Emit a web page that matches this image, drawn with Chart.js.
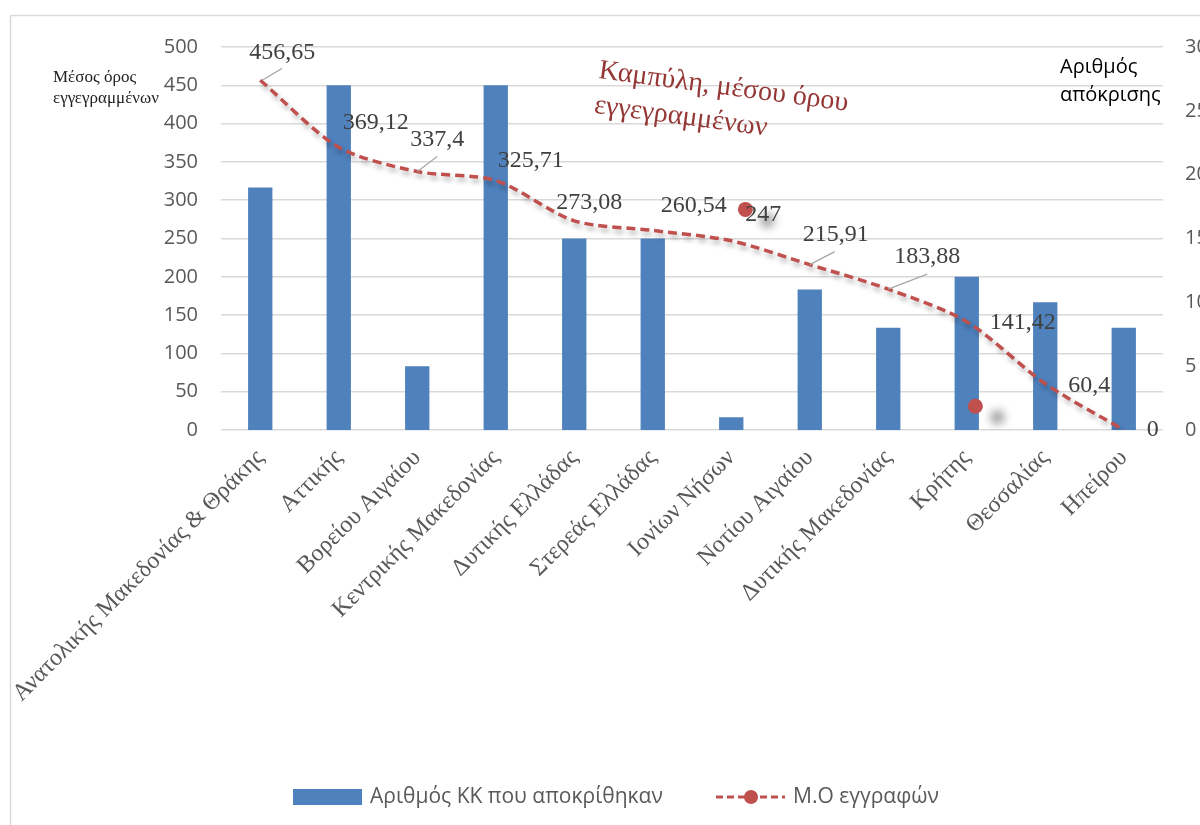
<!DOCTYPE html>
<html lang="el">
<head>
<meta charset="UTF-8">
<title>Μ.Ο εγγραφών ανά περιφέρεια</title>
<script src="https://cdn.jsdelivr.net/npm/chart.js@4/dist/chart.umd.min.js"></script>
<style>
  html, body { margin: 0; padding: 0; background: #fff; }
  #chart { display: block; }
</style>
</head>
<body>
<canvas id="chart" width="1200" height="825"></canvas>
<script>
// regions (x axis)
const regions = [
  'Ανατολικής Μακεδονίας & Θράκης', 'Αττικής', 'Βορείου Αιγαίου', 'Κεντρικής Μακεδονίας',
  'Δυτικής Ελλάδας', 'Στερεάς Ελλάδας', 'Ιονίων Νήσων', 'Νοτίου Αιγαίου',
  'Δυτικής Μακεδονίας', 'Κρήτης', 'Θεσσαλίας', 'Ηπείρου'
];
// bars, right axis
const responses = [19, 27, 5, 27, 15, 15, 1, 11, 8, 12, 10, 8];
// dashed curve, left axis
const avgEnrolled = [456.65, 369.12, 337.4, 325.71, 273.08, 260.54, 247, 215.91, 183.88, 141.42, 60.4, 0];
// two loose markers left on the plot
const looseMarkX = [6.18, 9.11];
const looseMarkY = [288, 31];
// axis ranges
const leftMax = 500, leftStep = 50;
const rightMax = 30, rightStep = 5;

// where each value label sits relative to its point, and whether it gets a leader line
const labelOffsets = [[22, -28], [37, -25], [20, -32], [35, -20], [15, -18], [41, -25],
  [32, -26], [26, -30], [39, -32], [56, 1], [44, 2], [29, 0]];
const leaders = [[2, 0, 22, -12], null, [0, 0, 20, -15], null, null, null,
  null, [0, 0, 25, -13], [0, 0, 39, -15], null, null, null];

const BLUE = '#4f81bd';
const RED = '#c0504d';
const GRID = '#d9d9d9';

const fmt = v => String(v).replace('.', ',');

// soft drop shadow for datasets that ask for one
const shadows = {
  id: 'shadows',
  beforeDatasetDraw(chart, args) {
    const s = chart.data.datasets[args.index].shadow;
    if (!s) return;
    const ctx = chart.ctx;
    ctx.save();
    ctx.shadowColor = s.color;
    ctx.shadowBlur = s.blur;
    ctx.shadowOffsetX = s.x;
    ctx.shadowOffsetY = s.y;
  },
  afterDatasetDraw(chart, args) {
    if (chart.data.datasets[args.index].shadow) chart.ctx.restore();
  }
};

// frame, axis titles, note, value labels and legend
const overlay = {
  id: 'overlay',
  beforeDraw(chart) {
    const ctx = chart.ctx;
    ctx.save();
    ctx.fillStyle = '#fff';
    ctx.fillRect(0, 0, chart.width, chart.height);
    ctx.strokeStyle = GRID;
    ctx.lineWidth = 1.5;
    ctx.beginPath();
    ctx.moveTo(10.5, chart.height);
    ctx.lineTo(10.5, 15.5);
    ctx.lineTo(chart.width, 15.5);
    ctx.stroke();
    ctx.restore();
  },
  afterDraw(chart) {
    const ctx = chart.ctx;
    ctx.save();

    // axis titles
    ctx.textBaseline = 'middle';
    ctx.textAlign = 'left';
    ctx.fillStyle = '#222';
    ctx.font = '17px "Liberation Serif"';
    ctx.fillText('Μέσος όρος', 53, 78);
    ctx.fillText('εγγεγραμμένων', 53, 99);
    ctx.fillStyle = '#000';
    ctx.font = '20px "Open Sans"';
    ctx.fillText('Αριθμός', 1060, 67);
    ctx.fillText('απόκρισης', 1060, 95);

    // note on the curve
    ctx.save();
    ctx.translate(598, 78);
    ctx.rotate(7.5 * Math.PI / 180);
    ctx.fillStyle = '#953735';
    ctx.font = '28px "Liberation Serif"';
    ctx.textBaseline = 'alphabetic';
    ctx.fillText('Καμπύλη, μέσου όρου', 0, 0);
    ctx.fillText('εγγεγραμμένων', 0, 35);
    ctx.restore();

    // value labels on the curve
    const meta = chart.getDatasetMeta(0);
    ctx.font = '24px "Liberation Serif"';
    ctx.fillStyle = '#404040';
    ctx.textAlign = 'center';
    ctx.textBaseline = 'middle';
    meta.data.forEach((pt, i) => {
      const [dx, dy] = labelOffsets[i];
      ctx.fillText(fmt(avgEnrolled[i]), pt.x + dx, pt.y + dy);
      const l = leaders[i];
      if (l) {
        ctx.strokeStyle = '#a6a6a6';
        ctx.lineWidth = 1.2;
        ctx.beginPath();
        ctx.moveTo(pt.x + l[0], pt.y + l[1]);
        ctx.lineTo(pt.x + l[2], pt.y + l[3]);
        ctx.stroke();
      }
    });

    // legend
    const ly = 797;
    ctx.fillStyle = BLUE;
    ctx.fillRect(293, ly - 8, 69, 16);
    ctx.font = '21px "Open Sans"';
    ctx.fillStyle = '#595959';
    ctx.textAlign = 'left';
    ctx.fillText(chart.data.datasets[1].label, 370, ly);
    ctx.strokeStyle = RED;
    ctx.lineWidth = 3;
    ctx.setLineDash([7, 4]);
    ctx.beginPath();
    ctx.moveTo(716, ly);
    ctx.lineTo(785, ly);
    ctx.stroke();
    ctx.setLineDash([]);
    ctx.fillStyle = RED;
    ctx.beginPath();
    ctx.arc(751, ly, 7, 0, Math.PI * 2);
    ctx.fill();
    ctx.fillStyle = '#595959';
    ctx.fillText(chart.data.datasets[0].label, 793, ly);

    ctx.restore();
  }
};

new Chart(document.getElementById('chart'), {
  type: 'bar',
  data: {
    labels: regions,
    datasets: [
      {
        type: 'line',
        label: 'Μ.Ο εγγραφών',
        data: avgEnrolled,
        yAxisID: 'y',
        borderColor: RED,
        borderWidth: 3.5,
        borderDash: [9, 5],
        tension: 0.28,
        pointRadius: 0,
        fill: false,
        order: 1,
        shadow: { color: 'rgba(0,0,0,0.3)', blur: 5, x: 2, y: 4 }
      },
      {
        type: 'bar',
        label: 'Αριθμός ΚΚ που αποκρίθηκαν',
        data: responses,
        yAxisID: 'y1',
        backgroundColor: BLUE,
        grouped: false,
        barPercentage: 0.31,
        categoryPercentage: 1.0,
        order: 2
      },
      {
        type: 'scatter',
        label: 'marks',
        data: looseMarkX.map((x, i) => ({ x, y: looseMarkY[i] })),
        xAxisID: 'xPos',
        yAxisID: 'y',
        pointRadius: 7.5,
        pointBackgroundColor: RED,
        pointBorderWidth: 0,
        order: 0,
        shadow: { color: 'rgba(0,0,0,0.35)', blur: 9, x: 22, y: 11 }
      }
    ]
  },
  options: {
    responsive: false,
    animation: false,
    layout: { padding: { left: 0, right: 0, top: 47, bottom: 0 } },
    plugins: {
      legend: { display: false },
      tooltip: { enabled: false }
    },
    scales: {
      x: {
        grid: { display: false, drawTicks: false },
        border: { display: false },
        ticks: {
          autoSkip: false,
          minRotation: 45,
          maxRotation: 45,
          padding: 14,
          color: '#595959',
          font: { family: 'Liberation Serif', size: 24 }
        },
        afterFit(s) { s.height = 395; s.paddingLeft = 0; s.paddingRight = 0; }
      },
      // plain index axis, so the loose markers can sit between categories
      xPos: {
        type: 'linear',
        display: false,
        offset: false,
        bounds: 'data',
        min: -0.5,
        max: regions.length - 0.5,
        ticks: { stepSize: 1 }
      },
      y: {
        position: 'left',
        min: 0,
        max: leftMax,
        ticks: { stepSize: leftStep, padding: 23, color: '#595959', font: { family: 'Open Sans', size: 20 } },
        grid: { color: GRID, lineWidth: 1.5, drawTicks: false },
        border: { display: false },
        afterFit(s) { s.width = 221; s.paddingTop = 0; s.paddingBottom = 0; }
      },
      y1: {
        position: 'right',
        min: 0,
        max: rightMax,
        ticks: { stepSize: rightStep, padding: 22, color: '#595959', font: { family: 'Open Sans', size: 20 } },
        grid: { display: false, drawTicks: false },
        border: { display: false },
        afterFit(s) { s.width = 37; s.paddingTop = 0; s.paddingBottom = 0; }
      }
    }
  },
  plugins: [shadows, overlay]
});
</script>
</body>
</html>
